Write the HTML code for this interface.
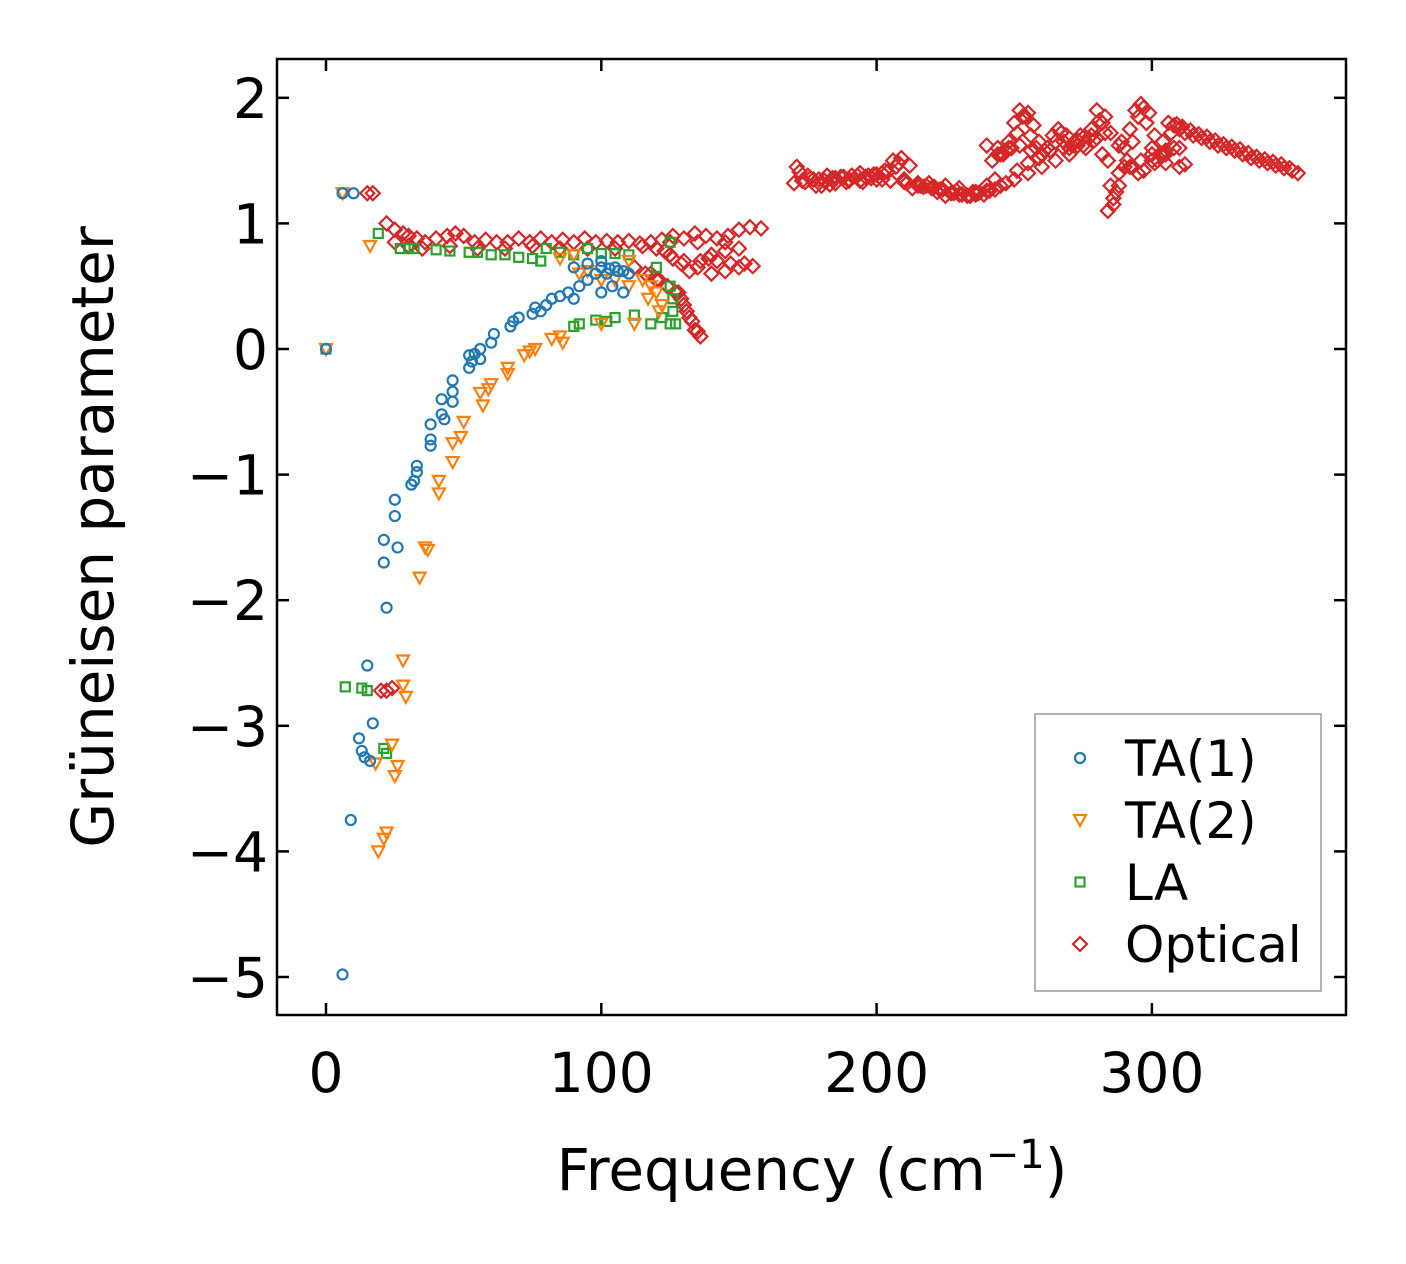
<!DOCTYPE html>
<html><head><meta charset="utf-8"><style>
body{margin:0;background:#fff}
text{font-family:"DejaVu Sans","Liberation Sans",sans-serif}
</style></head><body>
<svg id="chart" width="1406" height="1264" xmlns="http://www.w3.org/2000/svg" style="position:absolute;left:0;top:0">
<rect width="1406" height="1264" fill="#fff"/>
<g id="marks"></g>
<g id="axes"></g>
<text x="812" y="1190" font-size="58" text-anchor="middle">Frequency (cm<tspan dy="-22" font-size="40">−1</tspan><tspan dy="22">)</tspan></text>
<text transform="translate(113,537) rotate(-90)" font-size="58" text-anchor="middle">Grüneisen parameter</text>
<g>
<rect x="1035" y="714" width="286" height="277" fill="#fff" stroke="#999" stroke-width="1.5"/>
<circle cx="1080" cy="758" r="5" fill="none" stroke="#1f77b4" stroke-width="2.2"/>
<text x="1125" y="776" font-size="50">TA(1)</text>
<polygon points="1074,815 1086,815 1080,826" fill="none" stroke="#ff7f0e" stroke-width="2.2"/>
<text x="1125" y="838" font-size="50">TA(2)</text>
<rect x="1075.5" y="877.5" width="9" height="9" fill="none" stroke="#2ca02c" stroke-width="2.2"/>
<text x="1125" y="900" font-size="50">LA</text>
<polygon points="1080,937 1087,944 1080,951 1073,944" fill="none" stroke="#d62728" stroke-width="2.2"/>
<text x="1125" y="962" font-size="50">Optical</text>
</g>
</svg>
<script>
const xTicks=[0,100,200,300];
const yTicks=[2,1,0,-1,-2,-3,-4,-5];
const yTickLabels=["2","1","0","\u22121","\u22122","\u22123","\u22124","\u22125"];
const ta1X=[0,6,10,6,9,12,13,14,15,16,17,21,21,22,25,25,26,31,32,33,33,38,38,38,42,42,43,46,46,46,52,52,53,54,56,56,60,61,67,68,70,75,76,78,80,82,85,88,90,92,95,98,100,100,102,104,105,108,108,110,90,95,100,103,106];
const ta1Y=[0,1.24,1.24,-4.98,-3.75,-3.1,-3.2,-3.25,-2.52,-3.28,-2.98,-1.52,-1.7,-2.06,-1.2,-1.33,-1.58,-1.08,-1.05,-0.93,-0.98,-0.6,-0.72,-0.77,-0.4,-0.52,-0.56,-0.25,-0.34,-0.42,-0.05,-0.15,-0.1,-0.04,0,-0.08,0.05,0.12,0.18,0.22,0.25,0.28,0.33,0.3,0.35,0.4,0.42,0.45,0.4,0.5,0.55,0.6,0.45,0.65,0.6,0.5,0.65,0.45,0.62,0.6,0.65,0.68,0.7,0.64,0.62];
const ta2X=[0,6,16,18,19,21,22,24,25,26,28,28,29,34,36,37,41,41,46,46,49,50,56,57,59,60,66,66,72,74,76,82,85,86,92,95,100,105,110,112,115,118,120,122,100,110,85,90,117,121];
const ta2Y=[0,1.24,0.82,-3.3,-4,-3.9,-3.85,-3.15,-3.4,-3.32,-2.48,-2.68,-2.77,-1.82,-1.58,-1.6,-1.05,-1.15,-0.75,-0.9,-0.7,-0.58,-0.35,-0.45,-0.32,-0.28,-0.15,-0.2,-0.05,-0.02,0,0.08,0.1,0.05,0.6,0.62,0.55,0.55,0.5,0.2,0.55,0.5,0.45,0.35,0.2,0.7,0.72,0.75,0.4,0.3];
const laX=[0,7,13,15,19,21,22,27,30,32,40,45,52,55,60,65,70,75,78,80,85,90,95,100,105,110,90,92,98,102,105,112,118,122,125,126,126,125,120,125,127];
const laY=[0,-2.69,-2.7,-2.72,0.92,-3.18,-3.22,0.8,0.8,0.8,0.79,0.78,0.77,0.77,0.75,0.75,0.73,0.72,0.7,0.8,0.77,0.75,0.8,0.76,0.76,0.75,0.18,0.2,0.23,0.22,0.25,0.27,0.2,0.25,0.2,0.3,0.4,0.85,0.65,0.5,0.2];
const optX=[15,17,20,22,24,22,25,28,30,33,36,40,44,47,50,54,58,62,66,70,74,78,82,86,90,94,98,102,106,110,114,118,122,126,130,134,138,142,146,150,154,158,25,30,35,45,55,65,75,85,95,105,115,125,135,145,112,116,120,124,128,130,132,134,136,125,130,135,140,145,150,155,140,145,150,
118,121,124,127,129,131,133,135,120,123,126,129,132,136,139,142,147,152,
170,173,176,179,182,185,188,191,194,197,200,203,206,208,210,213,216,219,222,225,228,231,234,237,240,242,244,246,248,250,252,254,256,258,260,262,264,266,268,270,272,274,276,278,280,282,284,285,286,287,288,290,292,294,296,298,300,302,304,306,308,310,312,315,318,321,324,327,330,333,336,339,342,345,348,351,353,
175,180,185,190,195,200,205,210,215,220,225,230,235,240,245,250,255,260,265,270,275,280,285,290,295,300,305,310,240,244,248,252,256,282,284,286,288,292,296,300,305,310,312,
171,174,177,181,184,187,190,193,196,199,202,204,207,209,212,215,218,221,224,227,230,233,236,239,241,243,245,247,249,251,253,255,257,259,261,263,265,267,269,271,273,275,277,279,281,283,289,291,293,295,297,299,301,303,305,307,309,311,314,317,320,323,326,329,332,335,338,341,344,347,350,
172,178,183,189,194,198,202,211,217,223,229,236,243,247,251,255,259,263,268,273,278,283,288,293,297,301,304,308];
const optY=[1.24,1.24,-2.72,-2.72,-2.7,1.0,0.95,0.92,0.9,0.88,0.85,0.88,0.9,0.92,0.9,0.85,0.87,0.85,0.85,0.88,0.85,0.88,0.85,0.87,0.85,0.88,0.85,0.86,0.85,0.86,0.84,0.85,0.87,0.9,0.88,0.92,0.9,0.88,0.9,0.95,0.97,0.96,0.85,0.82,0.8,0.82,0.8,0.8,0.82,0.8,0.8,0.8,0.82,0.85,0.85,0.85,0.65,0.6,0.55,0.5,0.45,0.35,0.25,0.15,0.1,0.75,0.7,0.65,0.6,0.62,0.65,0.66,0.75,0.78,0.8,
0.6,0.55,0.5,0.45,0.4,0.3,0.22,0.14,0.8,0.78,0.72,0.68,0.62,0.7,0.72,0.7,0.68,0.68,
1.32,1.34,1.36,1.35,1.38,1.36,1.37,1.38,1.4,1.38,1.39,1.42,1.5,1.48,1.35,1.28,1.3,1.32,1.25,1.22,1.24,1.23,1.22,1.24,1.3,1.5,1.6,1.55,1.65,1.8,1.9,1.85,1.7,1.6,1.55,1.6,1.7,1.75,1.65,1.6,1.65,1.7,1.6,1.75,1.9,1.8,1.5,1.3,1.2,1.25,1.4,1.6,1.75,1.9,1.95,1.8,1.6,1.5,1.65,1.8,1.78,1.75,1.72,1.7,1.68,1.65,1.62,1.6,1.58,1.55,1.52,1.5,1.48,1.46,1.44,1.42,1.4,1.38,
1.3,1.32,1.34,1.33,1.35,1.34,1.33,1.3,1.28,1.3,1.28,1.25,1.26,1.3,1.35,1.4,1.45,1.5,1.55,1.62,1.68,1.72,1.45,1.4,1.5,1.55,1.6,1.62,1.55,1.6,1.62,1.58,1.55,1.1,1.15,1.3,1.45,1.5,1.55,1.48,1.45,1.47,1.45,
1.33,1.35,1.34,1.36,1.37,1.35,1.38,1.37,1.39,1.4,1.41,1.45,1.52,1.46,1.32,1.3,1.29,1.27,1.24,1.23,1.22,1.23,1.23,1.26,1.35,1.55,1.58,1.6,1.72,1.85,1.88,1.78,1.65,1.58,1.58,1.65,1.72,1.7,1.62,1.62,1.68,1.68,1.66,1.82,1.85,1.65,1.5,1.65,1.85,1.92,1.88,1.7,1.55,1.58,1.72,1.79,1.77,1.74,1.71,1.69,1.66,1.63,1.61,1.59,1.56,1.53,1.51,1.49,1.47,1.44,1.41,
1.3,1.31,1.33,1.34,1.36,1.35,1.32,1.29,1.27,1.26,1.25,1.27,1.32,1.42,1.48,1.52,1.58,1.6,1.66,1.7,1.72,1.62,1.45,1.42,1.48,1.55,1.6,1.6];
const X0=326,PX=2.753,Y0=349,PY=125.6;
const xs=v=>X0+v*PX, ys=v=>Y0-v*PY;
const NS="http://www.w3.org/2000/svg";
const marks=document.getElementById('marks'),axes=document.getElementById('axes');
function mk(tag,attrs,parent){const e=document.createElementNS(NS,tag);for(const k in attrs)e.setAttribute(k,attrs[k]);parent.appendChild(e);return e;}
function marker(kind,cx,cy,color,parent){
 let e;
 if(kind==='circle')e=mk('circle',{cx:cx,cy:cy,r:5,fill:'none',stroke:color,'stroke-width':2.2},parent);
 else if(kind==='tri')e=mk('polygon',{points:`${cx-6},${cy-5} ${cx+6},${cy-5} ${cx},${cy+6}`,fill:'none',stroke:color,'stroke-width':2.2},parent);
 else if(kind==='sq')e=mk('rect',{x:cx-4.5,y:cy-4.5,width:9,height:9,fill:'none',stroke:color,'stroke-width':2.2},parent);
 else e=mk('polygon',{points:`${cx},${cy-7} ${cx+7},${cy} ${cx},${cy+7} ${cx-7},${cy}`,fill:'none',stroke:color,'stroke-width':2.2},parent);
 return e;
}
const series=[['optical',optX,optY,'dia','#d62728'],['la',laX,laY,'sq','#2ca02c'],['ta2',ta2X,ta2Y,'tri','#ff7f0e'],['ta1',ta1X,ta1Y,'circle','#1f77b4']];
series.forEach(s=>{const g=mk('g',{},marks);
 s[1].forEach((x,i)=>{const m=marker(s[3],xs(x),ys(s[2][i]),s[4],g);});});
const frame=mk('rect',{x:277,y:59,width:1069,height:956,fill:'none',stroke:'#000','stroke-width':2.5},axes);

xTicks.forEach(t=>{const x=xs(t);mk('line',{x1:x,y1:1015,x2:x,y2:1003,stroke:'#000','stroke-width':2.5},axes);mk('line',{x1:x,y1:59,x2:x,y2:71,stroke:'#000','stroke-width':2.5},axes);
 const tx=mk('text',{x:x,y:1092,'font-size':55,'text-anchor':'middle'},axes);tx.textContent=t;});
yTicks.forEach((t,i)=>{const y=ys(t);mk('line',{x1:277,y1:y,x2:289,y2:y,stroke:'#000','stroke-width':2.5},axes);mk('line',{x1:1346,y1:y,x2:1334,y2:y,stroke:'#000','stroke-width':2.5},axes);
 const tx=mk('text',{x:268,y:y+20,'font-size':55,'text-anchor':'end'},axes);tx.textContent=yTickLabels[i];});
</script>
</body></html>
